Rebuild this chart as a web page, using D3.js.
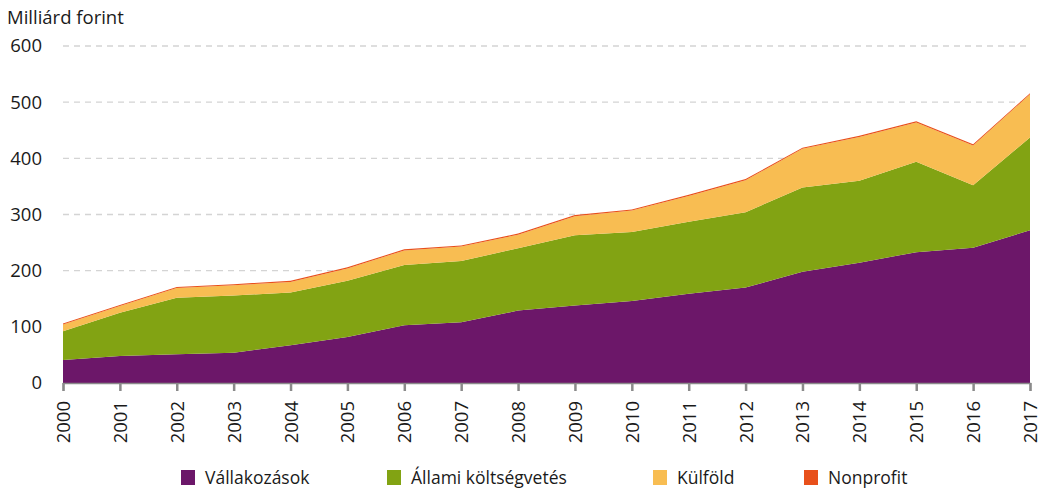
<!DOCTYPE html>
<html>
<head>
<meta charset="utf-8">
<script src="https://cdn.jsdelivr.net/npm/d3@7"></script>
<style>
  body { margin: 0; background: #fff; }
  text { font-family: "Open Sans", sans-serif; fill: #1a1a1a; }
</style>
</head>
<body>
<div id="wrapper"></div>
<script>
// Data (milliárd forint)
const years = [2000, 2001, 2002, 2003, 2004, 2005, 2006, 2007, 2008, 2009,
	2010, 2011, 2012, 2013, 2014, 2015, 2016, 2017]
const vallalkozasok = [41, 48, 51, 54, 67, 82, 103, 108, 129, 138, 146, 159, 170, 198, 214, 233, 241, 272]
const allami = [51, 77, 101, 102, 94, 100, 107, 109, 111, 125, 123, 128, 134, 150, 146, 161, 111, 165]
const kulfold = [12, 12, 17, 18, 19, 22, 26, 26, 24, 34, 38, 46, 57, 69, 78, 70, 71, 77]
const nonprofit = [2, 2, 2, 2, 2, 2, 2, 2, 2, 2, 2, 2, 2, 2, 2, 2, 2, 2]
const yTicks = [0, 100, 200, 300, 400, 500, 600]

const seriesNames = ['Vállakozások', 'Állami költségvetés', 'Külföld', 'Nonprofit']
const seriesKeys = ['v', 'a', 'k', 'n']
const colors = ['#6c1769', '#82a313', '#f8bd52', '#e8501b']

function drawChart() {
	const dimensions = {
		width: 1044,
		height: 490,
		margin: { top: 46, right: 14, bottom: 107, left: 63 }
	}
	dimensions.boundedWidth = dimensions.width - dimensions.margin.left - dimensions.margin.right
	dimensions.boundedHeight = dimensions.height - dimensions.margin.top - dimensions.margin.bottom

	const table = years.map((y, i) => ({
		year: y, v: vallalkozasok[i], a: allami[i], k: kulfold[i], n: nonprofit[i]
	}))

	const svg = d3.select('#wrapper').append('svg')
		.attr('width', dimensions.width)
		.attr('height', dimensions.height)

	const bounds = svg.append('g')
		.attr('transform', `translate(${dimensions.margin.left},${dimensions.margin.top})`)

	const xScale = d3.scaleLinear()
		.domain(d3.extent(years))
		.range([0, dimensions.boundedWidth])

	const yScale = d3.scaleLinear()
		.domain([0, 600])
		.range([dimensions.boundedHeight, 0])

	// gridlines
	bounds.append('g')
		.selectAll('line')
		.data(yTicks.filter(d => d > 0))
		.join('line')
			.attr('x1', 0)
			.attr('x2', dimensions.boundedWidth)
			.attr('y1', d => yScale(d))
			.attr('y2', d => yScale(d))
			.attr('stroke', '#d4d4d4')
			.attr('stroke-width', 1.3)
			.attr('stroke-dasharray', '6,5')

	// stacked areas
	const stacked = d3.stack().keys(seriesKeys)(table)
	const area = d3.area()
		.x(d => xScale(d.data.year))
		.y0(d => yScale(d[0]))
		.y1(d => yScale(d[1]))

	bounds.append('g')
		.selectAll('path')
		.data(stacked)
		.join('path')
			.attr('d', area)
			.attr('fill', (d, i) => colors[i])

	// y labels
	bounds.append('g')
		.selectAll('text')
		.data(yTicks)
		.join('text')
			.attr('x', -21)
			.attr('y', d => yScale(d))
			.attr('dy', '0.35em')
			.attr('text-anchor', 'end')
			.attr('font-size', 18.5)
			.text(d => d)

	// x axis
	const xAxis = d3.axisBottom(xScale)
		.tickValues(years)
		.tickFormat(d3.format('d'))
		.tickSize(8)
		.tickPadding(5)
	const xAxisGroup = bounds.append('g')
		.attr('transform', `translate(0,${dimensions.boundedHeight})`)
		.call(xAxis)
	xAxisGroup.select('.domain').attr('stroke', '#8a8a8a').attr('stroke-width', 1.5)
	xAxisGroup.selectAll('.tick line').attr('stroke', '#8a8a8a').attr('stroke-width', 2.5)
	xAxisGroup.selectAll('.tick text')
		.attr('font-family', '"Open Sans", sans-serif')
		.attr('font-size', 18.5)
		.attr('fill', '#1a1a1a')
		.attr('transform', 'rotate(-90)')
		.attr('text-anchor', 'end')
		.attr('x', -18)
		.attr('y', 0)
		.attr('dy', '0.35em')

	// unit label
	svg.append('text')
		.attr('x', 7)
		.attr('y', 24)
		.attr('font-size', 18.5)
		.text('Milliárd forint')

	// legend
	const legendX = [181, 387, 653, 804]
	const legend = svg.append('g')
		.selectAll('g')
		.data(seriesNames)
		.join('g')
			.attr('transform', (d, i) => `translate(${legendX[i]},470)`)
	legend.append('rect')
		.attr('width', 14)
		.attr('height', 15)
		.attr('fill', (d, i) => colors[i])
	legend.append('text')
		.attr('x', 24)
		.attr('y', 14)
		.attr('font-size', 17.5)
		.text(d => d)
}
drawChart()
</script>
</body>
</html>
